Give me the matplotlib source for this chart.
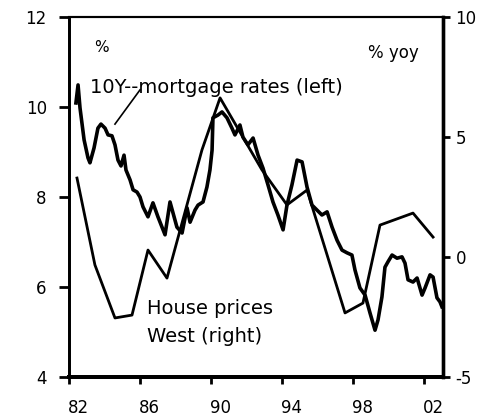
import matplotlib
matplotlib.use("Agg")
import matplotlib.pyplot as plt
import matplotlib.transforms as mtransforms

plt.rcParams['font.family'] = ['DejaVu Sans']
plt.rcParams['axes.unicode_minus'] = False

# 10Y mortgage rates (left axis, %)
mort_year = [82.39, 82.51, 82.62, 82.85, 83.07, 83.18, 83.41, 83.63, 83.80, 84.03,
             84.20, 84.42, 84.59, 84.76, 84.93, 85.10, 85.21, 85.44, 85.61, 85.83,
             86.00, 86.17, 86.45, 86.73, 87.01, 87.41, 87.69, 88.08, 88.37, 88.65,
             88.82, 89.10, 89.27, 89.55, 89.77, 89.94, 90.06, 90.11, 90.39, 90.62,
             90.90, 91.18, 91.35, 91.63, 91.80, 92.08, 92.37, 92.65, 92.93, 93.21,
             93.49, 93.77, 94.06, 94.28, 94.56, 94.85, 95.13, 95.41, 95.69, 95.97,
             96.25, 96.54, 96.82, 97.10, 97.38, 97.66, 97.94, 98.11, 98.39, 98.68,
             98.96, 99.24, 99.41, 99.63, 99.80, 99.97, 100.20, 100.48, 100.76, 100.93,
             101.10, 101.38, 101.61, 101.89, 102.06, 102.34, 102.51, 102.73, 102.90, 103.01]
mort_rate = [10.09, 10.49, 9.98, 9.27, 8.87, 8.76, 9.09, 9.53, 9.62, 9.53,
             9.38, 9.36, 9.16, 8.82, 8.69, 8.93, 8.60, 8.38, 8.16, 8.11,
             8.00, 7.78, 7.56, 7.87, 7.56, 7.16, 7.89, 7.33, 7.20, 7.76,
             7.44, 7.71, 7.82, 7.89, 8.22, 8.60, 9.04, 9.76, 9.82, 9.89,
             9.76, 9.53, 9.38, 9.60, 9.33, 9.16, 9.31, 8.93, 8.64, 8.27,
             7.89, 7.60, 7.27, 7.82, 8.27, 8.82, 8.78, 8.22, 7.82, 7.71,
             7.60, 7.67, 7.33, 7.04, 6.82, 6.76, 6.71, 6.38, 5.98, 5.82,
             5.42, 5.04, 5.27, 5.78, 6.44, 6.56, 6.71, 6.64, 6.67, 6.53,
             6.16, 6.11, 6.20, 5.82, 5.98, 6.27, 6.22, 5.76, 5.67, 5.56]

# House prices West (right axis, % yoy)
house_year = [82.45, 83.46, 84.59, 85.55, 86.45, 87.52, 89.49, 90.51, 92.87,
              94.28, 95.41, 97.55, 98.56, 99.52, 101.38, 102.51]
house_yoy = [3.29, -0.33, -2.54, -2.42, 0.29, -0.88, 4.46, 6.63, 3.63,
             2.17, 2.79, -2.33, -1.92, 1.33, 1.83, 0.83]

xticks = [82, 86, 90, 94, 98, 102]
xticklabels = ['82', '86', '90', '94', '98', '02']
left_ticks = [4, 6, 8, 10, 12]
right_ticks = [-5, 0, 5, 10]

fig = plt.figure(figsize=(4.84, 4.20), dpi=100)
ax = fig.add_axes([69/484, 1-377/420, (443-69)/484, (377-17)/420])
ax2 = ax.twinx()

ax.plot(mort_year, mort_rate, color='black', lw=2.6, solid_joinstyle='round')
ax2.plot(house_year, house_yoy, color='black', lw=2.0, solid_joinstyle='round')

ax.set_xlim(82, 103.07)
ax.set_ylim(4, 12)
ax2.set_ylim(-5, 10)

ax.set_xticks(xticks)
ax.set_xticklabels(xticklabels)
ax.set_yticks(left_ticks)
ax2.set_yticks(right_ticks)

fs = 12
ax.tick_params(axis='x', direction='out', length=5, width=2, labelsize=fs, pad=11)
ax.tick_params(axis='y', direction='out', length=7, width=2, labelsize=fs, pad=9)
ax2.tick_params(axis='y', direction='out', length=5, width=2, labelsize=fs, pad=4)

offset = mtransforms.ScaledTranslation(9/100, 0, fig.dpi_scale_trans)
for lab in ax.get_xticklabels():
    lab.set_transform(lab.get_transform() + offset)

for a in (ax, ax2):
    a.spines['left'].set_linewidth(2.0)
    a.spines['bottom'].set_linewidth(2.8)
    a.spines['right'].set_linewidth(2.4)
    a.spines['top'].set_linewidth(1.5)

ax.text(0.068, 0.915, '%', transform=ax.transAxes, fontsize=11, va='center', ha='left')
ax.text(0.935, 0.900, '% yoy', transform=ax.transAxes, fontsize=12, va='center', ha='right')
ax.text(83.18, 10.44, '10Y--mortgage rates (left)', fontsize=14, va='center', ha='left')
ax.plot([84.59, 86.0], [9.62, 10.38], color='black', lw=1.2)
ax.text(86.39, 5.53, 'House prices', fontsize=14, va='center', ha='left')
ax.text(86.39, 4.89, 'West (right)', fontsize=14, va='center', ha='left')

fig.savefig('out.png', dpi=100)
